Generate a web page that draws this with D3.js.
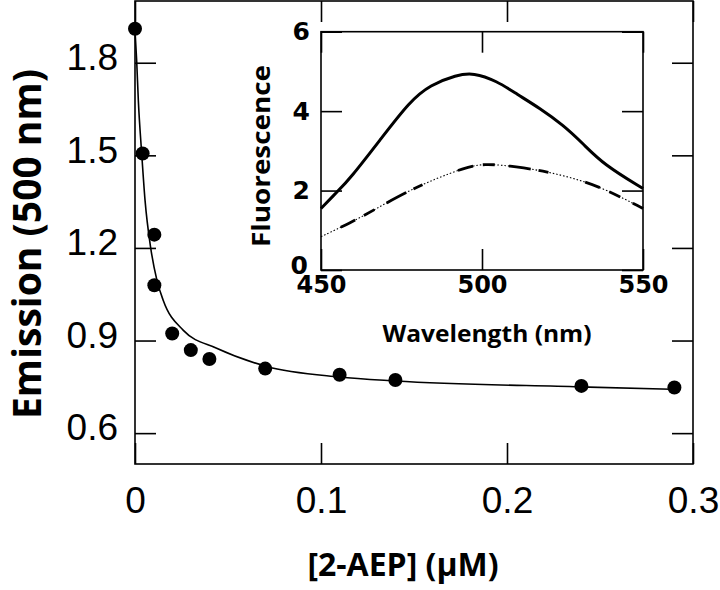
<!DOCTYPE html>
<html>
<head>
<meta charset="utf-8">
<script src="https://cdn.jsdelivr.net/npm/d3@7"></script>
<style>
  html, body { margin: 0; padding: 0; background: #fff; }
  svg { display: block; }
</style>
</head>
<body>
<div id="chart"></div>
<script>
// ---------------- Data ----------------
// Main plot: measured points
const conc = [0, 0.0041, 0.0104, 0.0104, 0.020, 0.030, 0.040, 0.070, 0.110, 0.140, 0.240, 0.290];
const emission = [1.91, 1.506, 1.243, 1.079, 0.923, 0.869, 0.840, 0.809, 0.789, 0.772, 0.753, 0.748];
// Main plot: fitted curve
const fitX = [0, 0.0009, 0.0018, 0.0036, 0.0054, 0.0084, 0.0118, 0.0152, 0.026, 0.0439, 0.0703, 0.1098, 0.140, 0.239, 0.289];
const fitY = [1.905, 1.806, 1.677, 1.506, 1.354, 1.202, 1.095, 1.030, 0.933, 0.875, 0.817, 0.782, 0.769, 0.750, 0.742];
// Main axes ticks
const mainXTicks = [0, 0.1, 0.2, 0.3];
const mainXLabels = ["0", "0.1", "0.2", "0.3"];
const mainYTicks = [0.6, 0.9, 1.2, 1.5, 1.8];
const mainYLabels = ["0.6", "0.9", "1.2", "1.5", "1.8"];

// Inset: spectra
const wlTop = [450, 455.4, 459, 468.3, 477.6, 483.9, 492.1, 497.3, 504.6, 510.8, 518, 525.2, 531.5, 537.7, 550];
const fluTop = [1.55, 2.0, 2.3, 3.27, 4.25, 4.66, 4.91, 4.97, 4.76, 4.43, 4.07, 3.65, 3.17, 2.66, 2.05];
const wlLow = [450, 459, 467.3, 476.6, 485.9, 494.2, 500.4, 510.8, 520.1, 530.4, 538.7, 550];
const fluLow = [0.84, 1.18, 1.55, 1.97, 2.31, 2.56, 2.69, 2.60, 2.48, 2.27, 2.02, 1.55];
const insetXTicks = [450, 500, 550];
const insetXLabels = ["450", "500", "550"];
const insetYTicks = [0, 2, 4, 6];
const insetYLabels = ["0", "2", "4", "6"];

// ---------------- Drawing ----------------
const W = 720, H = 590;
const svg = d3.select("#chart").append("svg").attr("width", W).attr("height", H);

const x = d3.scaleLinear().domain([0, 0.3]).range([135, 693]);
const y = d3.scaleLinear().domain([0.5, 2.0]).range([464, 1]);

const TICK = 21;
const mainG = svg.append("g");

// Frame
mainG.append("rect")
  .attr("x", x(0)).attr("y", y(2.0))
  .attr("width", x(0.3) - x(0)).attr("height", y(0.5) - y(2.0))
  .attr("fill", "none").attr("stroke", "#000").attr("stroke-width", 1.6);

function styleAxis(g) {
  g.select(".domain").remove();
  g.selectAll(".tick line").attr("stroke", "#000").attr("stroke-width", 1.6);
}

// bottom axis
const xAxisB = mainG.append("g").attr("transform", `translate(0,${y(0.5)})`)
  .call(d3.axisBottom(x).tickValues(mainXTicks).tickSizeInner(-TICK).tickSizeOuter(0)
    .tickFormat((d, i) => mainXLabels[i]));
styleAxis(xAxisB);
xAxisB.selectAll(".tick text")
  .attr("y", 49).attr("dy", 0)
  .attr("font-family", "Liberation Sans, Arial, sans-serif").attr("font-size", 37).attr("fill", "#000");

// top axis (ticks only)
const xAxisT = mainG.append("g").attr("transform", `translate(0,${y(2.0)})`)
  .call(d3.axisTop(x).tickValues(mainXTicks).tickSizeInner(-TICK).tickSizeOuter(0).tickFormat(""));
styleAxis(xAxisT);

// left axis
const yAxisL = mainG.append("g").attr("transform", `translate(${x(0)},0)`)
  .call(d3.axisLeft(y).tickValues(mainYTicks).tickSizeInner(-TICK).tickSizeOuter(0)
    .tickFormat((d, i) => mainYLabels[i]));
styleAxis(yAxisL);
yAxisL.selectAll(".tick text")
  .attr("x", -17).attr("dy", "0.32em").attr("y", -5)
  .attr("font-family", "Liberation Sans, Arial, sans-serif").attr("font-size", 37).attr("fill", "#000");

// right axis (ticks only)
const yAxisR = mainG.append("g").attr("transform", `translate(${x(0.3)},0)`)
  .call(d3.axisRight(y).tickValues(mainYTicks).tickSizeInner(-TICK).tickSizeOuter(0).tickFormat(""));
styleAxis(yAxisR);

// Fit curve
const fitData = fitX.map((v, i) => [v, fitY[i]]);
mainG.append("path")
  .datum(fitData)
  .attr("fill", "none").attr("stroke", "#000").attr("stroke-width", 1.6)
  .attr("d", d3.line().x(d => x(d[0])).y(d => y(d[1])).curve(d3.curveMonotoneX));

// Points
mainG.selectAll("circle.pt")
  .data(conc.map((v, i) => [v, emission[i]]))
  .join("circle")
  .attr("class", "pt")
  .attr("cx", d => x(d[0])).attr("cy", d => y(d[1])).attr("r", 7)
  .attr("fill", "#000");

// Axis titles
svg.append("text")
  .attr("x", 403).attr("y", 576)
  .attr("text-anchor", "middle")
  .attr("font-family", "Open Sans, sans-serif").attr("font-weight", "bold")
  .attr("font-size", 32).attr("fill", "#000")
  .text("[2-AEP] (μM)");

svg.append("text")
  .attr("transform", `translate(41,244) rotate(-90)`)
  .attr("text-anchor", "middle")
  .attr("font-family", "Open Sans, sans-serif").attr("font-weight", "bold")
  .attr("font-size", 39).attr("fill", "#000")
  .text("Emission (500 nm)");

// ---------------- Inset ----------------
const ix = d3.scaleLinear().domain([450, 550]).range([321, 643]);
const iy = d3.scaleLinear().domain([0, 6]).range([270, 31.7]);
const inset = svg.append("g");

inset.append("rect")
  .attr("x", ix(450)).attr("y", iy(6))
  .attr("width", ix(550) - ix(450)).attr("height", iy(0) - iy(6))
  .attr("fill", "#fff").attr("stroke", "#000").attr("stroke-width", 1.6);

const ixB = inset.append("g").attr("transform", `translate(0,${iy(0)})`)
  .call(d3.axisBottom(ix).tickValues(insetXTicks).tickSizeInner(-TICK).tickSizeOuter(0)
    .tickFormat((d, i) => insetXLabels[i]));
styleAxis(ixB);
ixB.selectAll(".tick text")
  .attr("y", 23).attr("dy", 0)
  .attr("font-family", "DejaVu Sans, sans-serif").attr("font-weight", "bold")
  .attr("font-size", 24).attr("fill", "#000");

const ixT = inset.append("g").attr("transform", `translate(0,${iy(6)})`)
  .call(d3.axisTop(ix).tickValues(insetXTicks).tickSizeInner(-TICK).tickSizeOuter(0).tickFormat(""));
styleAxis(ixT);

const iyL = inset.append("g").attr("transform", `translate(${ix(450)},0)`)
  .call(d3.axisLeft(iy).tickValues(insetYTicks).tickSizeInner(-TICK).tickSizeOuter(0)
    .tickFormat((d, i) => insetYLabels[i]));
styleAxis(iyL);
iyL.selectAll(".tick text")
  .attr("x", d => d === 0 ? -13 : -11).attr("dy", "0.36em").attr("y", d => d === 0 ? -6 : -1)
  .attr("font-family", "DejaVu Sans, sans-serif").attr("font-weight", "bold")
  .attr("font-size", 25).attr("fill", "#000");

const iyR = inset.append("g").attr("transform", `translate(${ix(550)},0)`)
  .call(d3.axisRight(iy).tickValues(insetYTicks).tickSizeInner(-TICK).tickSizeOuter(0).tickFormat(""));
styleAxis(iyR);

const iline = d3.line().x(d => ix(d[0])).y(d => iy(d[1])).curve(d3.curveBasis);
inset.append("path")
  .datum(wlTop.map((v, i) => [v, fluTop[i]]))
  .attr("fill", "none").attr("stroke", "#000").attr("stroke-width", 3)
  .attr("d", iline);

const lowData = wlLow.map((v, i) => [v, fluLow[i]]);
inset.append("path")
  .datum(lowData)
  .attr("fill", "none").attr("stroke", "#000").attr("stroke-width", 1.1)
  .attr("stroke-dasharray", "1.5,2")
  .attr("d", iline);
inset.append("path")
  .datum(lowData)
  .attr("fill", "none").attr("stroke", "#000").attr("stroke-width", 2.8)
  .attr("stroke-dasharray", "0,22,16,10,12,14,22,8,10,16")
  .attr("d", iline);

svg.append("text")
  .attr("x", 487).attr("y", 342)
  .attr("text-anchor", "middle")
  .attr("font-family", "Open Sans, sans-serif").attr("font-weight", "bold")
  .attr("font-size", 24).attr("fill", "#000")
  .attr("textLength", 209).attr("lengthAdjust", "spacingAndGlyphs")
  .text("Wavelength (nm)");

svg.append("text")
  .attr("transform", `translate(270,156) rotate(-90)`)
  .attr("text-anchor", "middle")
  .attr("font-family", "Open Sans, sans-serif").attr("font-weight", "bold")
  .attr("font-size", 25).attr("fill", "#000")
  .attr("textLength", 182).attr("lengthAdjust", "spacingAndGlyphs")
  .text("Fluorescence");
</script>
</body>
</html>
